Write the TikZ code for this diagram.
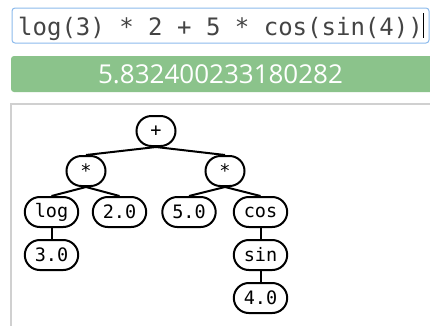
\documentclass[tikz,border=0pt]{standalone}
\usepackage{fontspec}
\setmonofont{DejaVu Sans Mono}
\setsansfont{Open Sans}
\usepackage{tikz}
\usetikzlibrary{positioning}
\definecolor{inputblue}{RGB}{140,186,236}
\definecolor{resgreen}{RGB}{139,195,139}
\definecolor{panelgray}{RGB}{208,208,208}
\definecolor{inputtext}{RGB}{68,68,68}
\tikzset{every node/.style={align=center},
  tnode/.style={draw, fill=white, line width=2pt, rounded corners=15pt,
    minimum height=30pt, minimum width=39pt, inner xsep=10pt, inner ysep=0pt,
    font=\fontsize{18.5}{21}\ttfamily},
  edge/.style={line width=2pt}}

\begin{document}
\begin{tikzpicture}[x=1pt, y=-1pt, node distance=11pt]
            \useasboundingbox (0,0) rectangle (430,325);
            % input field and result
            \draw[inputblue, line width=1pt, fill=white, rounded corners=3pt] (12,8) rectangle (429,43);
            \node [anchor=base west, inner sep=0pt, text=inputtext, font=\fontsize{24}{28}\ttfamily] (expr) at (18,35) {log(3) * 2 + 5 * cos(sin(4))};
            \draw[line width=1pt] (423.5,13) -- (423.5,38);
            \fill[resgreen, rounded corners=3pt] (11,56) rectangle (436,92);
            \node [anchor=base, inner sep=0pt, text=white, font=\fontsize{26}{30}\sffamily] (res) at (220.5,83) {5.832400233180282};
            \draw[panelgray, line width=1.2pt] (11,340) -- (11,104) -- (440,104);
            % tree
            \node [tnode] (n0) at (156,131) {+};
            \node [tnode] (n1) at (86,171) {*};
            \node [tnode] (n2) at (225,171) {*};
            \node [tnode] (n11) at (51.5,212) {log};
            \node [tnode] (n12) at (119.5,212) {2.0};
            \node [tnode] (n21) at (189,212) {5.0};
            \node [tnode] (n22) at (260.5,212) {cos};
            \node [tnode] (n111) [below=of n11] {3.0};
            \node [tnode] (n221) [below=of n22] {sin};
            \node [tnode] (n2211) [below=of n221] {4.0};
            \path[edge] (n0.south) edge (n1.north)
                (n0.south) edge (n2.north)
                (n1.south) edge (n11.north)
                (n1.south) edge (n12.north)
                (n2.south) edge (n21.north)
                (n2.south) edge (n22.north)
                (n11) edge (n111)
                (n22) edge (n221)
                (n221) edge (n2211);
        \end{tikzpicture}
\end{document}
